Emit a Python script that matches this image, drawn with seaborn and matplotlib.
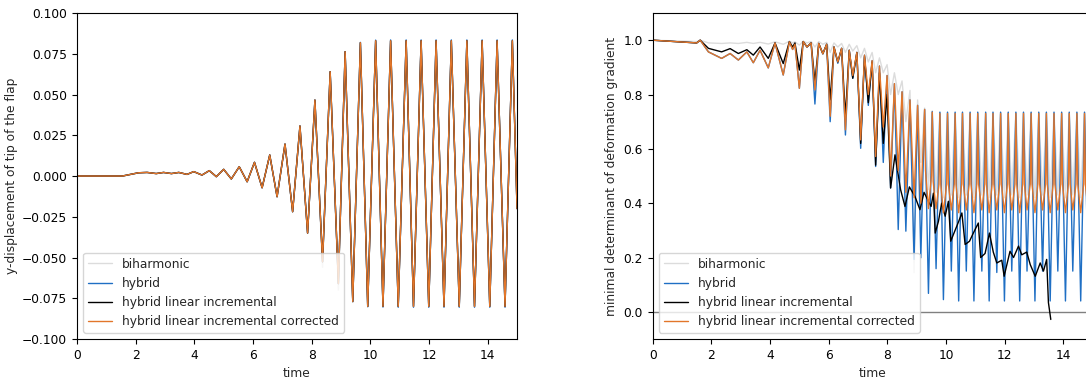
import matplotlib
matplotlib.use("Agg")
import matplotlib.pyplot as plt
import seaborn as sns

# ── Left panel: y-displacement of the flap tip (extrema) ──
disp_time = [0.0, 1.55, 2.10, 2.39, 2.70, 2.95, 3.22, 3.47, 3.75, 3.98,
             4.26, 4.51, 4.75, 5.00, 5.26, 5.53, 5.80, 6.05, 6.31, 6.57,
             6.82, 7.09, 7.35, 7.60, 7.86, 8.11, 8.37, 8.63, 8.91, 9.14,
             9.40, 9.66, 9.91, 10.18, 10.43, 10.69, 10.95, 11.22, 11.47, 11.73,
             11.99, 12.24, 12.51, 12.76, 13.03, 13.29, 13.55, 13.81, 14.07, 14.32,
             14.59, 14.84, 15.0]

disp_corrected = [0.0, 0.0, 0.0020, 0.0022, 0.0015, 0.0022, 0.0015, 0.0022, 0.0010, 0.0027,
                  0.0006, 0.0033, -0.0004, 0.0041, -0.0018, 0.0057, -0.0035, 0.0084, -0.0072, 0.0129,
                  -0.0127, 0.0196, -0.0219, 0.0307, -0.0350, 0.0466, -0.0526, 0.0640, -0.0660, 0.0763,
                  -0.0770, 0.0818, -0.0800, 0.0830, -0.0800, 0.0830, -0.0800, 0.0830, -0.0800, 0.0830,
                  -0.0800, 0.0830, -0.0800, 0.0830, -0.0800, 0.0830, -0.0800, 0.0830, -0.0800, 0.0830,
                  -0.0800, 0.0830, -0.0200]
disp_linear = list(disp_corrected)   # sits exactly under the corrected curve
disp_hybrid = [0.0, 0.0, 0.0020, 0.0022, 0.0015, 0.0022, 0.0015, 0.0022, 0.0010, 0.0027,
               0.0006, 0.0033, -0.0004, 0.0041, -0.0018, 0.0057, -0.0035, 0.0084, -0.0072, 0.0129,
               -0.0127, 0.0196, -0.0219, 0.0307, -0.0350, 0.0466, -0.0526, 0.0640, -0.0660, 0.0763,
               -0.0770, 0.0820, -0.0802, 0.0834, -0.0804, 0.0835, -0.0805, 0.0835, -0.0805, 0.0835,
               -0.0805, 0.0835, -0.0805, 0.0835, -0.0805, 0.0835, -0.0805, 0.0835, -0.0805, 0.0835,
               -0.0805, 0.0835, -0.0200]
disp_biharmonic = [0.0, 0.0, 0.0020, 0.0022, 0.0015, 0.0022, 0.0015, 0.0022, 0.0010, 0.0027,
                   0.0006, 0.0033, -0.0004, 0.0041, -0.0018, 0.0057, -0.0035, 0.0084, -0.0072, 0.0129,
                   -0.0127, 0.0196, -0.0219, 0.0307, -0.0350, 0.0466, -0.0560, 0.0640, -0.0700, 0.0763,
                   -0.0775, 0.0818, -0.0800, 0.0830, -0.0800, 0.0830, -0.0800, 0.0830, -0.0800, 0.0830,
                   -0.0800, 0.0830, -0.0800, 0.0830, -0.0800, 0.0830, -0.0800, 0.0830, -0.0800, 0.0830,
                   -0.0800, 0.0830, -0.0200]

# ── Right panel: minimal determinant of the deformation gradient ─────────────
det_time = [0.00, 1.50, 1.62, 1.90, 2.35, 2.64, 2.92, 3.21, 3.43, 3.66,
            3.94, 4.17, 4.45, 4.66, 4.77, 4.85, 5.00, 5.13, 5.26, 5.40,
            5.53, 5.66, 5.80, 5.93, 6.05, 6.18, 6.31, 6.44, 6.57, 6.70,
            6.82, 6.96, 7.09, 7.22, 7.35, 7.48, 7.60, 7.73, 7.86, 7.99,
            8.11, 8.24, 8.37, 8.50, 8.63, 8.77, 8.91, 9.03, 9.14, 9.27,
            9.40, 9.53, 9.66, 9.79, 9.91, 10.05, 10.18, 10.31, 10.43, 10.56,
            10.69, 10.82, 10.95, 11.08, 11.22, 11.35, 11.47, 11.60, 11.73, 11.86,
            11.99, 12.12, 12.24, 12.38, 12.51, 12.64, 12.76, 12.90, 13.03, 13.16,
            13.29, 13.42, 13.55, 13.68, 13.81, 13.94, 14.07, 14.20, 14.32, 14.46,
            14.59, 14.72, 14.84, 14.97]

det_hybrid = [1.000, 0.990, 1.000, 0.957, 0.933, 0.951, 0.927, 0.957, 0.917, 0.963,
              0.898, 0.990, 0.872, 0.994, 0.966, 0.985, 0.823, 0.995, 0.975, 0.990,
              0.765, 0.988, 0.950, 0.985, 0.700, 0.975, 0.915, 0.970, 0.651, 0.963,
              0.860, 0.955, 0.602, 0.945, 0.760, 0.925, 0.535, 0.905, 0.550, 0.870,
              0.456, 0.840, 0.303, 0.810, 0.297, 0.780, 0.193, 0.760, 0.199, 0.745,
              0.068, 0.737, 0.159, 0.735, 0.045, 0.735, 0.150, 0.735, 0.040, 0.735,
              0.150, 0.735, 0.040, 0.735, 0.150, 0.735, 0.040, 0.735, 0.145, 0.735,
              0.040, 0.735, 0.150, 0.735, 0.040, 0.735, 0.150, 0.735, 0.040, 0.735,
              0.150, 0.735, 0.040, 0.735, 0.150, 0.735, 0.040, 0.735, 0.150, 0.735,
              0.040, 0.735, 0.150, 0.735]

det_biharmonic = [1.000, 0.995, 1.000, 0.990, 0.988, 0.990, 0.988, 0.992, 0.988, 0.992,
                  0.986, 0.994, 0.985, 0.996, 0.990, 0.994, 0.982, 0.996, 0.990, 0.995,
                  0.975, 0.995, 0.985, 0.992, 0.955, 0.990, 0.975, 0.988, 0.955, 0.985,
                  0.960, 0.980, 0.935, 0.970, 0.920, 0.955, 0.880, 0.935, 0.880, 0.910,
                  0.800, 0.880, 0.800, 0.850, 0.700, 0.815, 0.145, 0.780, 0.550, 0.750,
                  0.450, 0.740, 0.440, 0.735, 0.420, 0.735, 0.430, 0.735, 0.420, 0.735,
                  0.430, 0.735, 0.420, 0.735, 0.430, 0.735, 0.420, 0.735, 0.430, 0.735,
                  0.420, 0.735, 0.430, 0.735, 0.420, 0.735, 0.430, 0.735, 0.420, 0.735,
                  0.430, 0.735, 0.420, 0.735, 0.430, 0.735, 0.420, 0.735, 0.430, 0.735,
                  0.420, 0.735, 0.430, 0.735]

# corrected run: narrow peaks, steep shoulders and broad troughs once saturated
det_corrected_time = [0.00, 1.50, 1.62, 1.90, 2.35, 2.64, 2.92, 3.21, 3.43, 3.66,
                      3.94, 4.17, 4.45, 4.66, 4.77, 4.85, 5.00, 5.13, 5.26, 5.40,
                      5.53, 5.66, 5.80, 5.93, 6.05, 6.18, 6.31, 6.44, 6.57, 6.70,
                      6.82, 6.96, 7.09, 7.22, 7.35, 7.48, 7.60, 7.73, 7.86, 7.99,
                      8.11, 8.24, 8.37, 8.50, 8.63, 8.77, 8.91, 9.03, 9.14, 9.27,
                      9.30, 9.40, 9.50, 9.53, 9.56, 9.66, 9.76, 9.79, 9.82, 9.91,
                      10.02, 10.05, 10.08, 10.18, 10.28, 10.31, 10.34, 10.43, 10.53, 10.56,
                      10.59, 10.69, 10.79, 10.82, 10.85, 10.95, 11.05, 11.08, 11.11, 11.22,
                      11.32, 11.35, 11.38, 11.47, 11.57, 11.60, 11.63, 11.73, 11.83, 11.86,
                      11.89, 11.99, 12.09, 12.12, 12.15, 12.24, 12.35, 12.38, 12.41, 12.51,
                      12.61, 12.64, 12.67, 12.76, 12.87, 12.90, 12.93, 13.03, 13.13, 13.16,
                      13.19, 13.29, 13.39, 13.42, 13.45, 13.55, 13.65, 13.68, 13.71, 13.81,
                      13.91, 13.94, 13.97, 14.07, 14.17, 14.20, 14.23, 14.32, 14.43, 14.46,
                      14.49, 14.59, 14.69, 14.72, 14.75, 14.84, 14.94, 14.97]
det_corrected = [1.000, 0.990, 1.000, 0.957, 0.933, 0.951, 0.927, 0.957, 0.917, 0.963,
                 0.898, 0.990, 0.872, 0.994, 0.966, 0.985, 0.823, 0.995, 0.975, 0.990,
                 0.817, 0.988, 0.950, 0.985, 0.720, 0.975, 0.920, 0.970, 0.670, 0.963,
                 0.870, 0.955, 0.633, 0.945, 0.800, 0.925, 0.572, 0.905, 0.680, 0.870,
                 0.500, 0.840, 0.520, 0.810, 0.440, 0.780, 0.420, 0.760, 0.400, 0.745,
                 0.520, 0.380, 0.500, 0.735, 0.480, 0.380, 0.470, 0.730, 0.470, 0.365,
                 0.470, 0.730, 0.470, 0.375, 0.470, 0.730, 0.470, 0.365, 0.470, 0.730,
                 0.470, 0.375, 0.470, 0.730, 0.470, 0.365, 0.470, 0.730, 0.470, 0.375,
                 0.470, 0.730, 0.470, 0.365, 0.470, 0.730, 0.470, 0.375, 0.470, 0.730,
                 0.470, 0.365, 0.470, 0.730, 0.470, 0.375, 0.470, 0.730, 0.470, 0.365,
                 0.470, 0.730, 0.470, 0.375, 0.470, 0.730, 0.470, 0.365, 0.470, 0.730,
                 0.470, 0.375, 0.470, 0.730, 0.470, 0.365, 0.470, 0.730, 0.470, 0.375,
                 0.470, 0.730, 0.470, 0.365, 0.470, 0.730, 0.470, 0.375, 0.470, 0.730,
                 0.470, 0.365, 0.470, 0.730, 0.470, 0.375, 0.470, 0.730]

# linear incremental run stops (fails) shortly after t = 13.5
det_linear_time = [0.00, 1.50, 1.62, 1.90, 2.35, 2.64, 2.92, 3.21, 3.43, 3.66,
                   3.94, 4.17, 4.45, 4.66, 4.77, 4.85, 5.00, 5.13, 5.26, 5.40,
                   5.53, 5.66, 5.80, 5.93, 6.05, 6.18, 6.31, 6.44, 6.57, 6.70,
                   6.82, 6.96, 7.09, 7.22, 7.35, 7.48, 7.60, 7.73, 7.86, 7.99,
                   8.11, 8.26, 8.45, 8.60, 8.75, 8.94, 9.11, 9.25, 9.40, 9.49,
                   9.57, 9.63, 9.74, 9.85, 9.97, 10.08, 10.16, 10.27, 10.42, 10.54,
                   10.65, 10.80, 10.93, 11.10, 11.18, 11.33, 11.48, 11.61, 11.73, 11.90,
                   11.98, 12.18, 12.30, 12.47, 12.58, 12.75, 12.87, 13.04, 13.21, 13.32,
                   13.43, 13.49, 13.57]
det_linear = [1.000, 0.990, 1.000, 0.970, 0.957, 0.969, 0.951, 0.965, 0.945, 0.975,
              0.933, 0.990, 0.914, 0.995, 0.975, 0.990, 0.890, 0.995, 0.975, 0.990,
              0.847, 0.988, 0.950, 0.985, 0.780, 0.975, 0.920, 0.970, 0.720, 0.963,
              0.860, 0.955, 0.620, 0.940, 0.770, 0.920, 0.540, 0.880, 0.620, 0.800,
              0.456, 0.578, 0.450, 0.388, 0.460, 0.425, 0.376, 0.440, 0.407, 0.388,
              0.437, 0.290, 0.333, 0.400, 0.352, 0.407, 0.260, 0.290, 0.330, 0.364,
              0.248, 0.260, 0.290, 0.327, 0.200, 0.215, 0.290, 0.220, 0.180, 0.190,
              0.131, 0.223, 0.200, 0.242, 0.210, 0.220, 0.174, 0.131, 0.180, 0.150,
              0.193, 0.034, -0.028]

labels = ["biharmonic", "hybrid", "hybrid linear incremental",
          "hybrid linear incremental corrected"]
colors = ["#dcdcdc", "#1f6fc4", "#000000", "#e2762a"]

sns.set_style("ticks")
plt.rcParams["font.family"] = ["DejaVu Sans"]
plt.rcParams["font.size"] = 8.8
for key in ["axes.edgecolor", "xtick.color", "ytick.color"]:
    plt.rcParams[key] = "black"

fig = plt.figure(figsize=(10.86, 3.81), dpi=100)
ax1 = fig.add_axes([0.0709, 0.1102, 0.4052, 0.8556])
ax2 = fig.add_axes([0.6010, 0.1102, 0.4052, 0.8556])

# left panel
left_series = [(disp_time, disp_biharmonic), (disp_time, disp_hybrid),
               (disp_time, disp_linear), (disp_time, disp_corrected)]
for (t, y), lab, col in zip(left_series, labels, colors):
    sns.lineplot(x=t, y=y, ax=ax1, color=col, lw=1.0, label=lab,
                 estimator=None, sort=False)
ax1.set_xlim(0, 15)
ax1.set_ylim(-0.1, 0.1)
ax1.set_xlabel("time")
ax1.set_ylabel("y-displacement of tip of the flap", labelpad=3)
ax1.legend(loc="lower left", fontsize=8.8)

# right panel
ax2.axhline(0, color="#808080", lw=1.0, zorder=0)
right_series = [(det_time, det_biharmonic), (det_time, det_hybrid),
                (det_linear_time, det_linear), (det_corrected_time, det_corrected)]
for (t, y), lab, col in zip(right_series, labels, colors):
    sns.lineplot(x=t, y=y, ax=ax2, color=col, lw=1.0, label=lab,
                 estimator=None, sort=False)
ax2.set_xlim(0, 15)
ax2.set_ylim(-0.1, 1.1)
ax2.set_xlabel("time")
ax2.set_ylabel("minimal determinant of deformation gradient")
ax2.legend(loc="lower left", fontsize=8.8)

for ax in (ax1, ax2):
    ax.set_xticks([0, 2, 4, 6, 8, 10, 12, 14])

fig.savefig("out.png", dpi=100)
